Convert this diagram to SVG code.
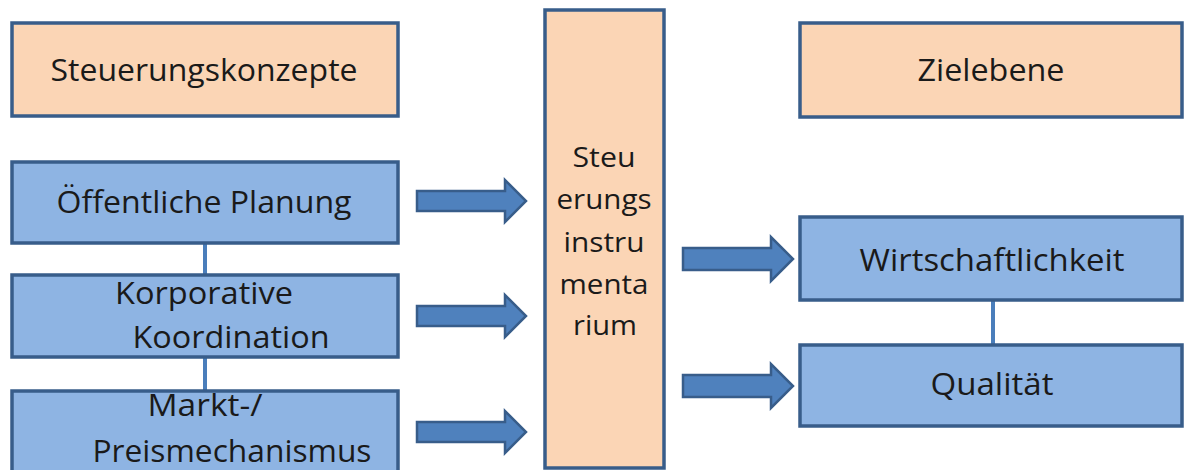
<svg xmlns="http://www.w3.org/2000/svg" width="1184" height="470" viewBox="0 0 1184 470">
  <defs>
    <style>
      .box { stroke: #385D8A; stroke-width: 3.5; }
      .peach { fill: #FBD5B5; }
      .blue { fill: #8EB4E3; }
      .lbl { font-family: "Open Sans", "Liberation Sans", sans-serif; fill: #1a1a1a; text-anchor: middle; }
      .big { font-size: 31px; }
      .mid { font-size: 27px; }
      .link { stroke: #4A7EBB; stroke-width: 4; fill: none; }
      .arrow { fill: #4F81BD; stroke: #385D8A; stroke-width: 2.5; stroke-linejoin: miter; }
    </style>
  </defs>
  <rect width="1184" height="470" fill="#ffffff"/>

  <!-- connectors -->
  <g id="connectors">
    <line class="link" x1="205" y1="243" x2="205" y2="275"/>
    <line class="link" x1="205" y1="357" x2="205" y2="391"/>
    <line class="link" x1="993" y1="300" x2="993" y2="345"/>
    <path class="arrow" d="M417,191 H505 V180 L526,201 L505,222 V211 H417 Z"/>
    <path class="arrow" d="M417,306 H505 V295 L526,316 L505,337 V326 H417 Z"/>
    <path class="arrow" d="M417,422 H505 V411 L526,432 L505,453 V442 H417 Z"/>
    <path class="arrow" d="M683,248 H771 V237 L793,259 L771,281 V270 H683 Z"/>
    <path class="arrow" d="M683,375 H771 V364 L793,386 L771,408 V397 H683 Z"/>
  </g>

  <g id="steuerungskonzepte">
    <rect class="box peach" x="12" y="23" width="386" height="93"/>
    <text class="lbl big" x="204" y="81" textLength="307" lengthAdjust="spacingAndGlyphs">Steuerungskonzepte</text>
  </g>

  <g id="oeffentliche-planung">
    <rect class="box blue" x="12" y="162" width="386" height="81"/>
    <text class="lbl big" x="204" y="213" textLength="295" lengthAdjust="spacingAndGlyphs">Öffentliche Planung</text>
  </g>

  <g id="korporative-koordination">
    <rect class="box blue" x="12" y="275" width="386" height="82"/>
    <text class="lbl big" x="204" y="304" textLength="178" lengthAdjust="spacingAndGlyphs">Korporative</text>
    <text class="lbl big" x="231" y="348" textLength="197" lengthAdjust="spacingAndGlyphs">Koordination</text>
  </g>

  <g id="markt-preismechanismus">
    <rect class="box blue" x="12" y="391" width="386" height="90"/>
    <text class="lbl big" x="205" y="416" textLength="115" lengthAdjust="spacingAndGlyphs">Markt-/</text>
    <text class="lbl big" x="232" y="462" textLength="279" lengthAdjust="spacingAndGlyphs">Preismechanismus</text>
  </g>

  <g id="steuerungsinstrumentarium">
    <rect class="box peach" x="545" y="10" width="119" height="458"/>
    <text class="lbl mid" x="604" y="167" textLength="63" lengthAdjust="spacingAndGlyphs">Steu</text>
    <text class="lbl mid" x="604" y="209" textLength="95" lengthAdjust="spacingAndGlyphs">erungs</text>
    <text class="lbl mid" x="604" y="252" textLength="81" lengthAdjust="spacingAndGlyphs">instru</text>
    <text class="lbl mid" x="604" y="294" textLength="89" lengthAdjust="spacingAndGlyphs">menta</text>
    <text class="lbl mid" x="605" y="335" textLength="64" lengthAdjust="spacingAndGlyphs">rium</text>
  </g>

  <g id="zielebene">
    <rect class="box peach" x="800" y="23" width="382" height="94"/>
    <text class="lbl big" x="991" y="81" textLength="147" lengthAdjust="spacingAndGlyphs">Zielebene</text>
  </g>

  <g id="wirtschaftlichkeit">
    <rect class="box blue" x="800" y="217" width="382" height="83"/>
    <text class="lbl big" x="992" y="271" textLength="265" lengthAdjust="spacingAndGlyphs">Wirtschaftlichkeit</text>
  </g>

  <g id="qualitaet">
    <rect class="box blue" x="800" y="345" width="382" height="81"/>
    <text class="lbl big" x="992" y="395" textLength="123" lengthAdjust="spacingAndGlyphs">Qualität</text>
  </g>
</svg>
